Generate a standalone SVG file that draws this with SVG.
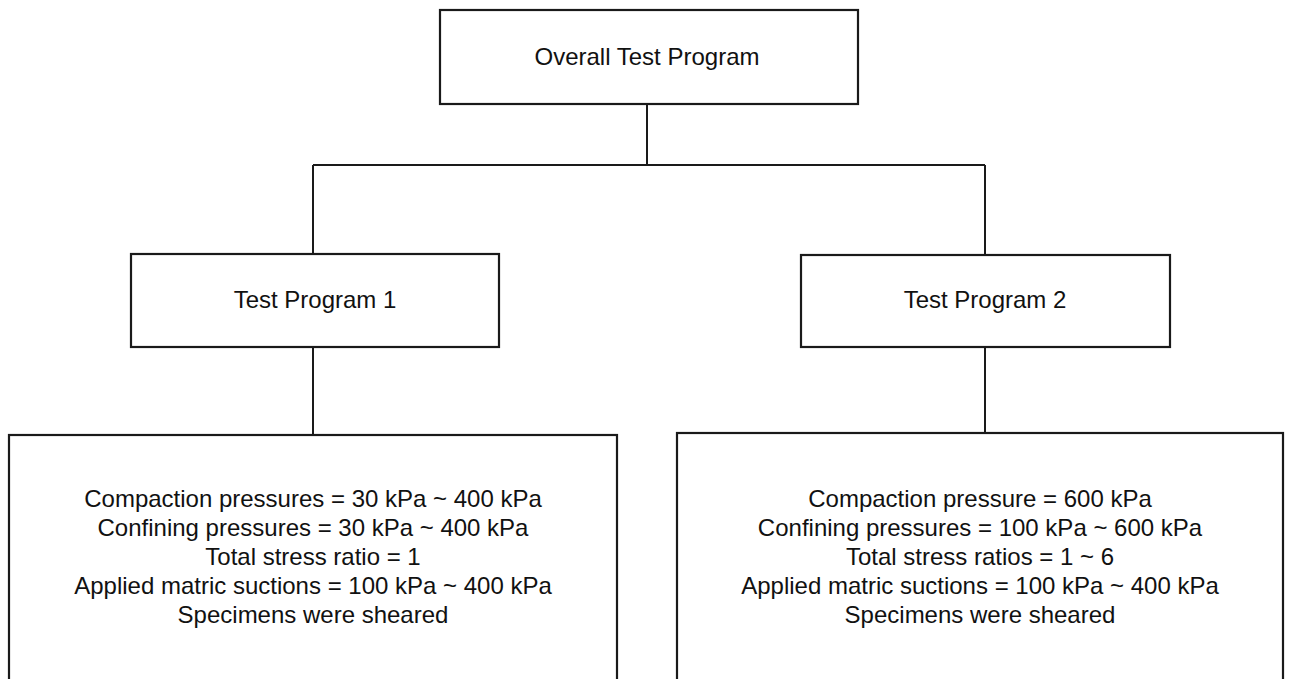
<svg xmlns="http://www.w3.org/2000/svg" width="1291" height="679" viewBox="0 0 1291 679">
<style>
.box{fill:#fff;stroke:#1a1a1a;stroke-width:2.2}
.conn{fill:none;stroke:#1a1a1a;stroke-width:2}
text{font-family:"Liberation Sans",Arial,sans-serif;font-size:24px;fill:#111;text-anchor:middle}
</style>
<rect width="1291" height="679" fill="#fff"/>
<g id="connectors">
<path class="conn" d="M647,104 V165 M313,165 H985 M313,165 V254 M985,165 V255 M313,347 V435 M985,347 V433"/>
</g>
<g id="overall">
<rect class="box" x="440" y="10" width="418" height="94"/>
<text x="647" y="65">Overall Test Program</text>
</g>
<g id="tp1">
<rect class="box" x="131" y="254" width="368" height="93"/>
<text x="315" y="308">Test Program 1</text>
</g>
<g id="tp2">
<rect class="box" x="801" y="255" width="369" height="92"/>
<text x="985" y="308">Test Program 2</text>
</g>
<g id="details1">
<rect class="box" x="9" y="435" width="608" height="260"/>
<text x="313" y="507">Compaction pressures = 30 kPa ~ 400 kPa</text>
<text x="313" y="536">Confining pressures = 30 kPa ~ 400 kPa</text>
<text x="313" y="565">Total stress ratio = 1</text>
<text x="313" y="594">Applied matric suctions = 100 kPa ~ 400 kPa</text>
<text x="313" y="623">Specimens were sheared</text>
</g>
<g id="details2">
<rect class="box" x="677" y="433" width="606" height="262"/>
<text x="980" y="507">Compaction pressure = 600 kPa</text>
<text x="980" y="536">Confining pressures = 100 kPa ~ 600 kPa</text>
<text x="980" y="565">Total stress ratios = 1 ~ 6</text>
<text x="980" y="594">Applied matric suctions = 100 kPa ~ 400 kPa</text>
<text x="980" y="623">Specimens were sheared</text>
</g>
</svg>
